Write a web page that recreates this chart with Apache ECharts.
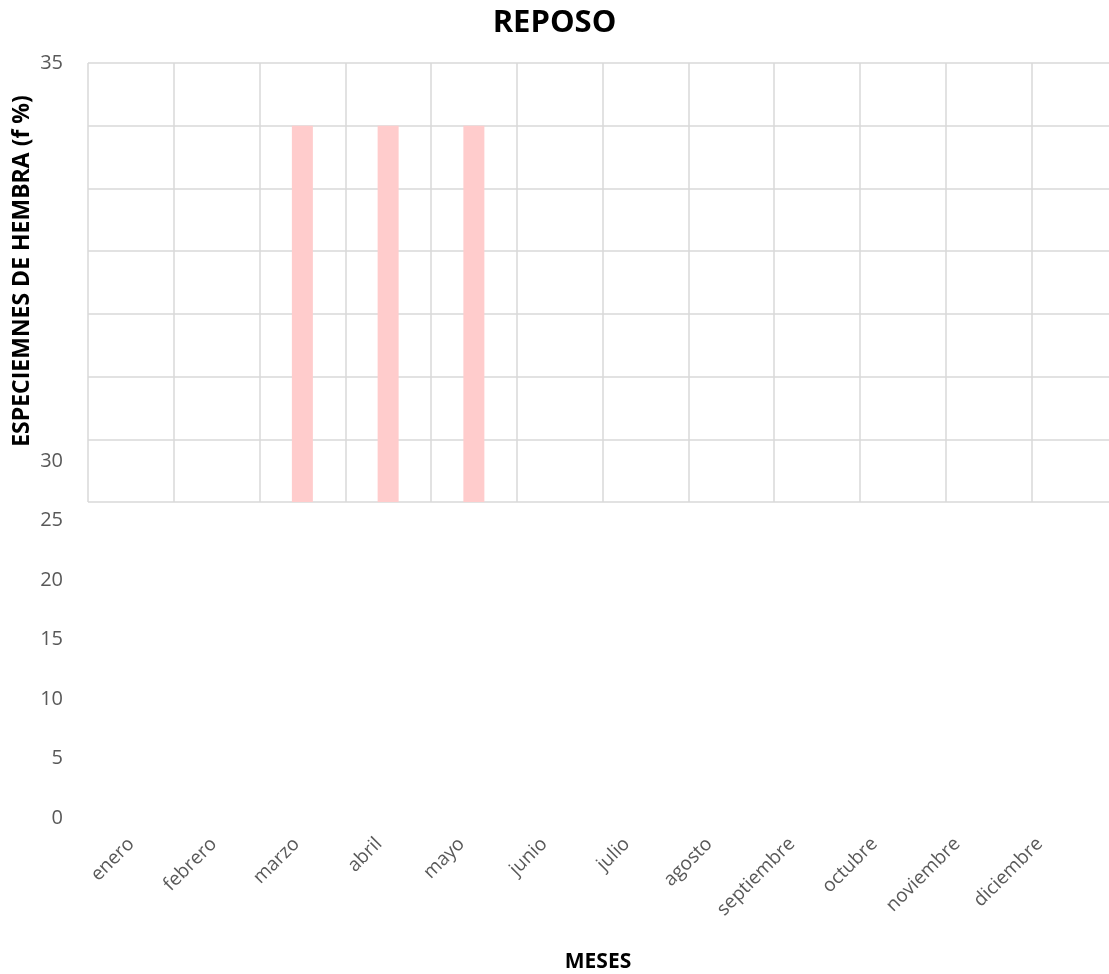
<!DOCTYPE html>
<html>
<head>
<meta charset="utf-8">
<script src="https://cdn.jsdelivr.net/npm/echarts@6/dist/echarts.min.js"></script>
<style>
  html, body { margin: 0; padding: 0; background: #ffffff; }
  #chart { width: 1109px; height: 974px; }
</style>
</head>
<body>
<div id="chart"></div>
<script>
// Months on the category axis
const months = ['enero', 'febrero', 'marzo', 'abril', 'mayo', 'junio',
  'julio', 'agosto', 'septiembre', 'octubre', 'noviembre', 'diciembre'];
// Female specimens in resting stage (f %)
const reposo = [0, 0, 30, 30, 30, 0, 0, 0, 0, 0, 0, 0];
// Tick labels: the upper plot shows only its top value, the lower scale carries the rest
const upperTickLabels = [35];
const lowerTickLabels = [0, 5, 10, 15, 20, 25, 30];

const FONT = '"Open Sans", "Liberation Sans", sans-serif';
const GRID_COLOR = '#d9d9d9';
const TICK_COLOR = '#595959';

const chart = echarts.init(document.getElementById('chart'), null, { renderer: 'canvas' });

chart.setOption({
  animation: false,
  backgroundColor: '#ffffff',
  title: {
    text: 'REPOSO',
    left: 'center',
    top: 3,
    textStyle: { fontFamily: FONT, fontSize: 31, fontWeight: 'bold', color: '#000000' }
  },
  grid: [
    { left: 88, top: 63, width: 1029, height: 439, outerBoundsMode: 'none', containLabel: false },
    { left: 90, top: 461, width: 991, height: 357, outerBoundsMode: 'none', containLabel: false }
  ],
  xAxis: [
    {
      gridIndex: 0,
      type: 'category',
      data: months,
      boundaryGap: true,
      axisLine: { show: false },
      axisTick: { show: false },
      axisLabel: { show: false },
      splitLine: { show: true, lineStyle: { color: GRID_COLOR, width: 1.5 } }
    },
    {
      gridIndex: 1,
      type: 'category',
      data: months,
      boundaryGap: true,
      axisLine: { show: false },
      axisTick: { show: false },
      splitLine: { show: false },
      axisLabel: {
        interval: 0,
        rotate: 45,
        margin: 23,
        fontFamily: FONT,
        fontSize: 19,
        color: TICK_COLOR
      }
    }
  ],
  yAxis: [
    {
      gridIndex: 0,
      type: 'value',
      min: 0,
      max: 35,
      interval: 5,
      axisLine: { show: false },
      axisTick: { show: false },
      splitLine: { show: true, lineStyle: { color: GRID_COLOR, width: 1.5 } },
      axisLabel: {
        margin: 25,
        fontFamily: FONT,
        fontSize: 20,
        color: TICK_COLOR,
        formatter: v => (upperTickLabels.includes(v) ? String(v) : '')
      }
    },
    {
      gridIndex: 1,
      type: 'value',
      min: 0,
      max: 30,
      interval: 5,
      axisLine: { show: false },
      axisTick: { show: false },
      splitLine: { show: false },
      axisLabel: {
        margin: 27,
        fontFamily: FONT,
        fontSize: 20,
        color: TICK_COLOR,
        formatter: v => (lowerTickLabels.includes(v) ? String(v) : '')
      }
    }
  ],
  graphic: [
    {
      type: 'text',
      x: 22,
      y: 271,
      rotation: Math.PI / 2,
      style: {
        text: 'ESPECIEMNES DE HEMBRA (f %)',
        fontFamily: FONT,
        fontSize: 23,
        fontWeight: 'bold',
        fill: '#000000',
        align: 'center',
        verticalAlign: 'middle'
      }
    },
    {
      type: 'text',
      x: 598,
      y: 962,
      style: {
        text: 'MESES',
        fontFamily: FONT,
        fontSize: 21,
        fontWeight: 'bold',
        fill: '#000000',
        align: 'center',
        verticalAlign: 'middle'
      }
    }
  ],
  series: [
    {
      type: 'bar',
      xAxisIndex: 0,
      yAxisIndex: 0,
      data: reposo,
      barWidth: 21,
      itemStyle: { color: '#ffcccc' }
    }
  ]
});
</script>
</body>
</html>
